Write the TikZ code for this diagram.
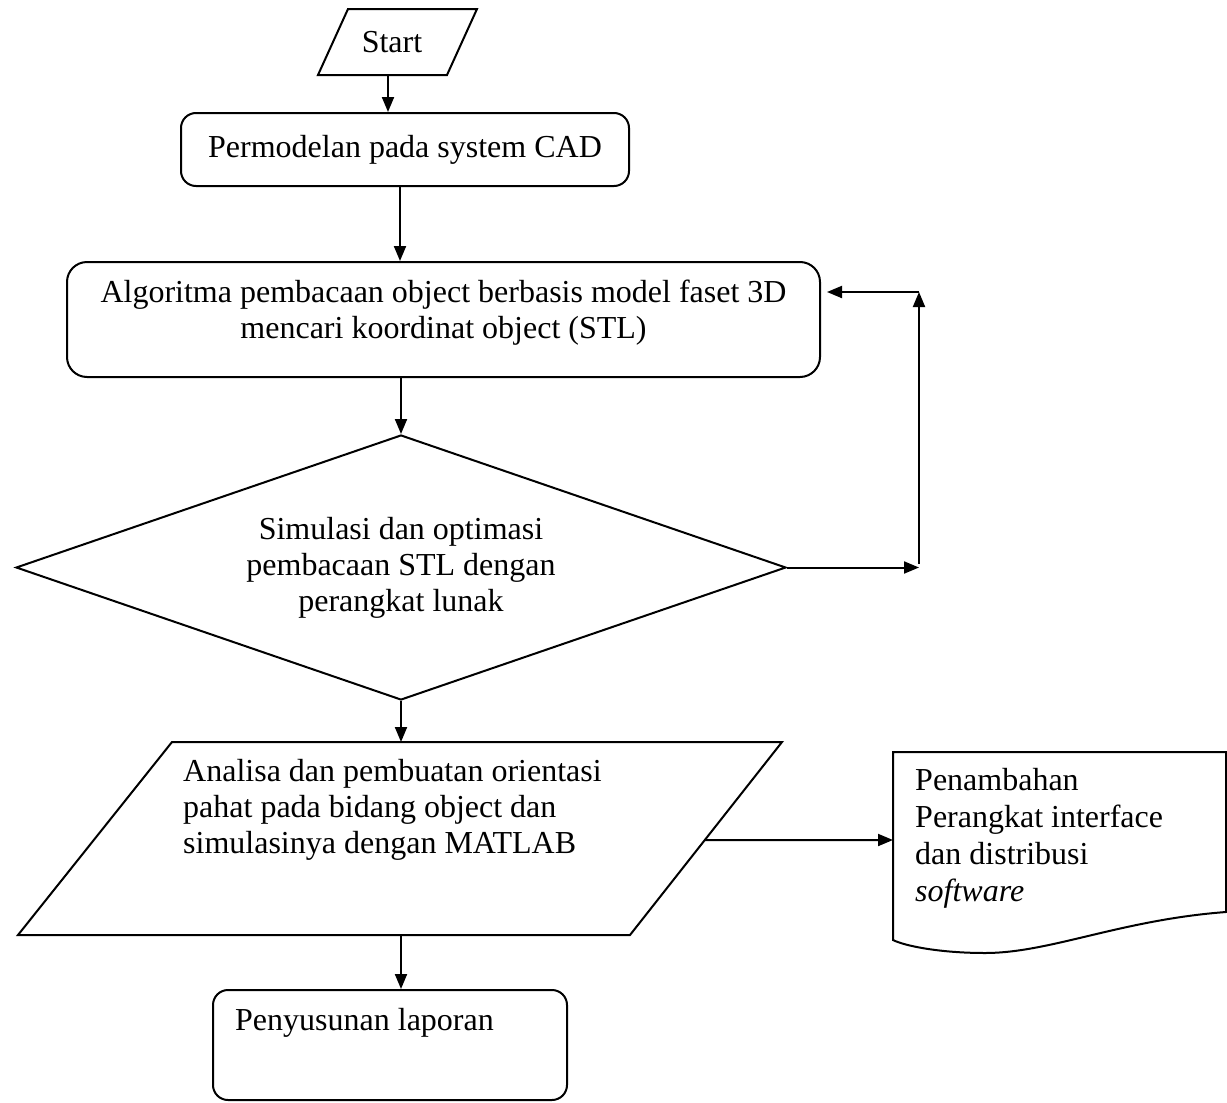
\documentclass[tikz,border=0pt]{standalone}
\usepackage{fontspec}
\setmainfont{Liberation Serif}
\usetikzlibrary{arrows.meta,shapes.geometric,calc}

\tikzset{
	garis/.style={line width=2pt},
	panah/.style={garis,-{Triangle[length=15pt,width=12pt]}},
	teks/.style={inner sep=0pt, font=\fontsize{32}{36}\selectfont},
	proses/.style={draw, garis, rounded corners=15pt, teks, align=center},
	keputusan/.style={draw, garis, diamond, aspect=2.9, inner sep=0pt, teks, align=center}
}

\begin{document}
\begin{tikzpicture}[x=1pt,y=-1pt]
	\useasboundingbox (0,0) rectangle (1227,1103);
	% start
	\draw[garis] (348,9) -- (477,9) -- (447,75) -- (318,75) -- cycle;
	\node[teks] (mulai) at (392,42) {Start};
	\coordinate (mulai-b) at (388,75);
	% proses
	\node[proses, minimum width=448pt, minimum height=73pt] (cad) at (405,149.5) {Permodelan pada system CAD};
	\node[proses, minimum width=753pt, minimum height=115pt, rounded corners=20pt] (algo) at (443.5,319.5) {};
	\node[teks, align=center] (algo-teks) at (443.5,313)
		{Algoritma pembacaan object berbasis model faset 3D\\mencari koordinat object (STL)};
	\node[keputusan, minimum width=770pt, minimum height=265pt] (simulasi) at (401,567.5)
		{Simulasi dan optimasi\\pembacaan STL dengan\\perangkat lunak};
	% analisa
	\coordinate (an-tl) at (172,742);
	\coordinate (an-tr) at (782,742);
	\coordinate (an-br) at (630,935);
	\coordinate (an-bl) at (18,935);
	\draw[garis] (an-tl) -- (an-tr) -- (an-br) -- (an-bl) -- cycle;
	\node[teks, anchor=west, align=left] (analisa) at (183,810)
		{Analisa dan pembuatan orientasi\\pahat pada bidang object dan\\simulasinya dengan MATLAB};
	% dokumen
	\coordinate (dok-kiri) at (893,840);
	\draw[garis] (893,752) -- (1226,752) -- (1226,912)
		.. controls (1120,920) and (1050,953) .. (985,953)
		.. controls (940,953) and (905,946) .. (893,940) -- cycle;
	\node[teks, anchor=west, align=left, font=\fontsize{32}{37}\selectfont] (dokumen) at (915,838)
		{Penambahan\\Perangkat interface\\dan distribusi\\\textit{software}};
	% laporan
	\node[draw, garis, rounded corners=15pt, minimum width=354pt, minimum height=110pt] (lapor) at (390,1045) {};
	\node[teks, anchor=west] (lapor-teks) at (235,1023) {Penyusunan laporan};
	% panah
	\draw[panah] (mulai-b) -- (mulai-b |- cad.north);
	\draw[panah] ([xshift=-5pt]cad.south) -- ([xshift=-5pt]cad.south |- algo.north);
	\draw[panah] (algo.south -| simulasi.north) -- (simulasi.north);
	\coordinate (balik-b) at (919,567.5);
	\coordinate (balik-a) at (919,292);
	\draw[panah] (simulasi.east) -- (balik-b);
	\draw[panah] ([yshift=4pt]balik-b) -- (balik-a);
	\draw[panah, shorten >=6pt] (balik-a) -- (algo.east |- balik-a);
	\draw[panah] (simulasi.south) -- (simulasi.south |- an-tl);
	\draw[panah] ($(an-tr)!0.508!(an-br)$) -- (dok-kiri);
	\draw[panah] (simulasi.south |- an-bl) -- (simulasi.south |- lapor.north);
\end{tikzpicture}
\end{document}
